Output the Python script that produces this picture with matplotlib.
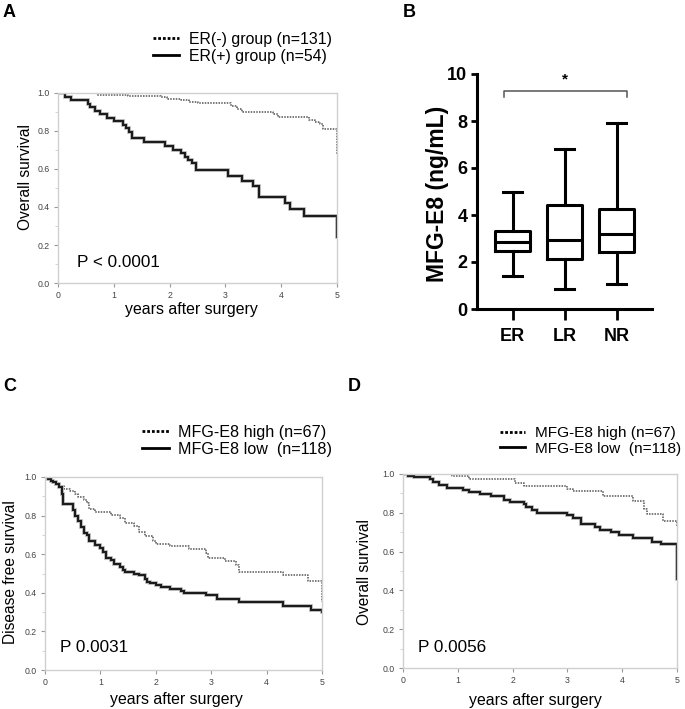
import matplotlib
matplotlib.use("Agg")
import matplotlib.pyplot as plt
import matplotlib.patheffects as pe
from matplotlib.ticker import MultipleLocator, FormatStrFormatter

plt.rcParams['font.family'] = ['Liberation Sans', 'DejaVu Sans']

W, H = 685, 709

# ---- panel A : overall survival by ER status
a_pos_t = [0, 0.12, 0.24, 0.54, 0.58, 0.66, 0.75, 0.87, 1.0, 1.16, 1.21, 1.27, 1.33, 1.54,
           1.91, 2.06, 2.2, 2.27, 2.33, 2.4, 2.47, 3.05, 3.3, 3.5, 3.6, 4.07, 4.15, 4.4, 5.0]
a_pos_s = [1.0, 0.98, 0.963, 0.944, 0.926, 0.907, 0.889, 0.87, 0.852, 0.833, 0.815, 0.796, 0.765, 0.74,
           0.72, 0.70, 0.683, 0.665, 0.648, 0.63, 0.595, 0.565, 0.537, 0.51, 0.455, 0.42, 0.39, 0.355, 0.24]
a_neg_t = [0, 0.7, 1.25, 1.85, 1.95, 2.2, 2.35, 2.5, 3.1, 3.2, 3.3, 3.85, 3.95, 4.5, 4.6, 4.7, 4.75, 5.0]
a_neg_s = [1.0, 0.992, 0.985, 0.977, 0.97, 0.962, 0.953, 0.945, 0.93, 0.915, 0.90, 0.888, 0.876,
           0.86, 0.85, 0.835, 0.81, 0.68]

# ---- panel B : MFG-E8 by recurrence group
groups = ['ER', 'LR', 'NR']
whis_lo = [1.4, 0.85, 1.05]
q1 = [2.48, 2.12, 2.44]
med = [2.85, 2.95, 3.18]
q3 = [3.3, 4.43, 4.26]
whis_hi = [5.0, 6.8, 7.9]

# ---- panel C : disease free survival by MFG-E8
c_low_t = [0, 0.05, 0.1, 0.15, 0.2, 0.25, 0.3, 0.33, 0.5, 0.55, 0.6, 0.65, 0.7, 0.75, 0.8, 0.9,
           1.0, 1.05, 1.1, 1.2, 1.25, 1.35, 1.4, 1.45, 1.6, 1.7, 1.8, 1.85, 1.9, 2.0, 2.1, 2.25,
           2.45, 2.5, 2.9, 3.1, 3.5, 4.3, 4.8, 5.0]
c_low_s = [1.0, 0.99, 0.98, 0.975, 0.965, 0.95, 0.91, 0.86, 0.83, 0.80, 0.77, 0.74, 0.71, 0.70,
           0.67, 0.65, 0.63, 0.61, 0.58, 0.57, 0.55, 0.535, 0.52, 0.51, 0.50, 0.49, 0.47, 0.455,
           0.45, 0.44, 0.43, 0.42, 0.41, 0.40, 0.39, 0.37, 0.35, 0.33, 0.31, 0.30]
c_high_t = [0, 0.05, 0.15, 0.25, 0.35, 0.45, 0.55, 0.6, 0.7, 0.75, 0.8, 0.9, 1.2, 1.35, 1.45,
            1.6, 1.7, 1.8, 1.95, 2.0, 2.25, 2.6, 2.9, 2.95, 3.25, 3.45, 3.5, 4.3, 4.75, 5.0]
c_high_s = [1.0, 0.985, 0.97, 0.955, 0.94, 0.925, 0.91, 0.895, 0.88, 0.865, 0.835, 0.82, 0.805,
            0.79, 0.76, 0.745, 0.715, 0.695, 0.67, 0.655, 0.64, 0.625, 0.605, 0.58, 0.565, 0.545,
            0.51, 0.49, 0.46, 0.35]

# ---- panel D : overall survival by MFG-E8
d_high_t = [0, 0.9, 1.2, 2.05, 2.2, 3.0, 3.1, 3.65, 4.2, 4.4, 4.45, 4.75, 5.0]
d_high_s = [1.0, 0.99, 0.972, 0.955, 0.938, 0.925, 0.91, 0.888, 0.862, 0.82, 0.795, 0.758, 0.73]
d_low_t = [0, 0.1, 0.2, 0.5, 0.55, 0.65, 0.8, 1.1, 1.2, 1.4, 1.6, 1.85, 1.95, 2.2, 2.25, 2.35,
           2.45, 3.0, 3.1, 3.25, 3.5, 3.6, 3.8, 3.95, 4.2, 4.55, 4.7, 5.0]
d_low_s = [1.0, 0.99, 0.985, 0.975, 0.96, 0.945, 0.93, 0.92, 0.905, 0.895, 0.885, 0.868, 0.855,
           0.843, 0.83, 0.815, 0.80, 0.788, 0.772, 0.74, 0.725, 0.712, 0.70, 0.685, 0.668, 0.652,
           0.638, 0.46]

fig = plt.figure(figsize=(W / 100, H / 100), dpi=100)


def px_axes(x0, y0, x1, y1):
    return fig.add_axes([x0 / W, 1 - y1 / H, (x1 - x0) / W, (y1 - y0) / H])


def km_axes(ax, ylabel, lab_x, lab_y, xlab_x, xlab_y):
    ax.set_xlim(0, 5)
    ax.set_ylim(0, 1)
    for sp in ax.spines.values():
        sp.set_color('#d0d0d0')
        sp.set_linewidth(1.0)
    ax.xaxis.set_major_locator(MultipleLocator(1))
    ax.yaxis.set_major_locator(MultipleLocator(0.2))
    ax.yaxis.set_minor_locator(MultipleLocator(0.1))
    ax.yaxis.set_major_formatter(FormatStrFormatter('%.1f'))
    ax.tick_params(axis='both', which='major', labelsize=6.3, colors='#999999',
                   labelcolor='#444444', length=3, width=0.8, pad=3)
    ax.tick_params(axis='y', which='minor', colors='#cccccc', length=2, width=0.6)
    ax.set_ylabel(ylabel, fontsize=11.2)
    ax.yaxis.set_label_coords(lab_x, lab_y)
    ax.yaxis.label.set_va('center')
    ax.set_xlabel('years after surgery', fontsize=11.4)
    ax.xaxis.set_label_coords(xlab_x, xlab_y)
    ax.xaxis.label.set_va('center')


def solid(ax, t, s):
    ax.step(t, s, where='post', color='#1c1c1c', lw=1.5, solid_joinstyle='miter',
            path_effects=[pe.withStroke(linewidth=2.8, foreground='#c8c8c8'), pe.Normal()])


def dotted(ax, t, s):
    ax.step(t, s, where='post', color='#555555', lw=1.1, linestyle=(0, (1, 0.8)))


def km_legend(ax, labels, x, y, size):
    h1, = ax.plot([], [], color='black', lw=2.0, linestyle=(0, (1, 0.7)))
    h2, = ax.plot([], [], color='black', lw=2.0)
    fig.legend([h1, h2], labels, loc='upper left', bbox_to_anchor=(x / W, 1 - y / H),
               frameon=False, fontsize=size, handlelength=1.65, handletextpad=0.6,
               labelspacing=0.12, borderpad=0, borderaxespad=0)


# Panel A
axA = px_axes(58, 93, 337, 283)
dotted(axA, a_neg_t, a_neg_s)
solid(axA, a_pos_t, a_pos_s)
km_axes(axA, 'Overall survival', -0.118, 0.558, 0.477, -0.142)
axA.text(0.068, 0.11, 'P < 0.0001', transform=axA.transAxes, fontsize=12.3, va='center')
km_legend(axA, ['ER(-) group (n=131)', 'ER(+) group (n=54)'], 153, 32, 11.4)

# Panel B
axB = px_axes(477, 74, 652, 309)
stats = [dict(label=g, whislo=lo, q1=a, med=m, q3=b, whishi=hi)
         for g, lo, a, m, b, hi in zip(groups, whis_lo, q1, med, q3, whis_hi)]
lw_b = 2.2
axB.bxp(stats, positions=[1, 2, 3], widths=0.67, capwidths=0.37, showfliers=False,
        boxprops=dict(color='black', linewidth=lw_b),
        whiskerprops=dict(color='black', linewidth=lw_b),
        capprops=dict(color='black', linewidth=lw_b),
        medianprops=dict(color='black', linewidth=lw_b))
axB.set_xlim(0.317, 3.68)
axB.set_ylim(0, 10)
axB.spines['top'].set_visible(False)
axB.spines['right'].set_visible(False)
axB.spines['left'].set_linewidth(2.2)
axB.spines['bottom'].set_linewidth(2.2)
axB.set_yticks([0, 2, 4, 6, 8, 10])
axB.tick_params(axis='y', length=4.5, width=2.0, pad=2.5, labelsize=13)
axB.tick_params(axis='x', length=8, width=2.0, pad=6, labelsize=13)
for lab in axB.get_xticklabels() + axB.get_yticklabels():
    lab.set_fontweight('bold')
axB.set_ylabel('MFG-E8 (ng/mL)', fontsize=16.5, fontweight='bold')
axB.yaxis.set_label_coords(-0.225, 0.489)
axB.yaxis.label.set_va('center')
# significance bracket ER vs NR
axB.plot([0.84, 0.84, 3.2, 3.2], [9.02, 9.28, 9.28, 9.02], color='#555555', lw=1.1,
         clip_on=False)
axB.text(2.0, 9.75, '*', ha='center', va='center', fontsize=11, fontweight='bold')

# Panel C
axC = px_axes(45, 477, 322, 670)
dotted(axC, c_high_t, c_high_s)
solid(axC, c_low_t, c_low_s)
km_axes(axC, 'Disease free survival', -0.126, 0.508, 0.473, -0.155)
axC.text(0.054, 0.115, 'P 0.0031', transform=axC.transAxes, fontsize=12.3, va='center')
km_legend(axC, ['MFG-E8 high (n=67)', 'MFG-E8 low  (n=118)'], 142, 425, 11.6)

# Panel D
axD = px_axes(403, 474, 677, 668)
dotted(axD, d_high_t, d_high_s)
solid(axD, d_low_t, d_low_s)
km_axes(axD, 'Overall survival', -0.139, 0.495, 0.485, -0.165)
axD.text(0.055, 0.108, 'P 0.0056', transform=axD.transAxes, fontsize=12.3, va='center')
km_legend(axD, ['MFG-E8 high (n=67)', 'MFG-E8 low  (n=118)'], 500, 426, 11.1)

# panel letters
for letter, x, y in [('A', 3, 4), ('B', 403, 4), ('C', 3, 378), ('D', 348, 378)]:
    fig.text(x / W, 1 - y / H, letter, fontsize=13, fontweight='bold', ha='left', va='top')

fig.savefig('out.png', dpi=100)
